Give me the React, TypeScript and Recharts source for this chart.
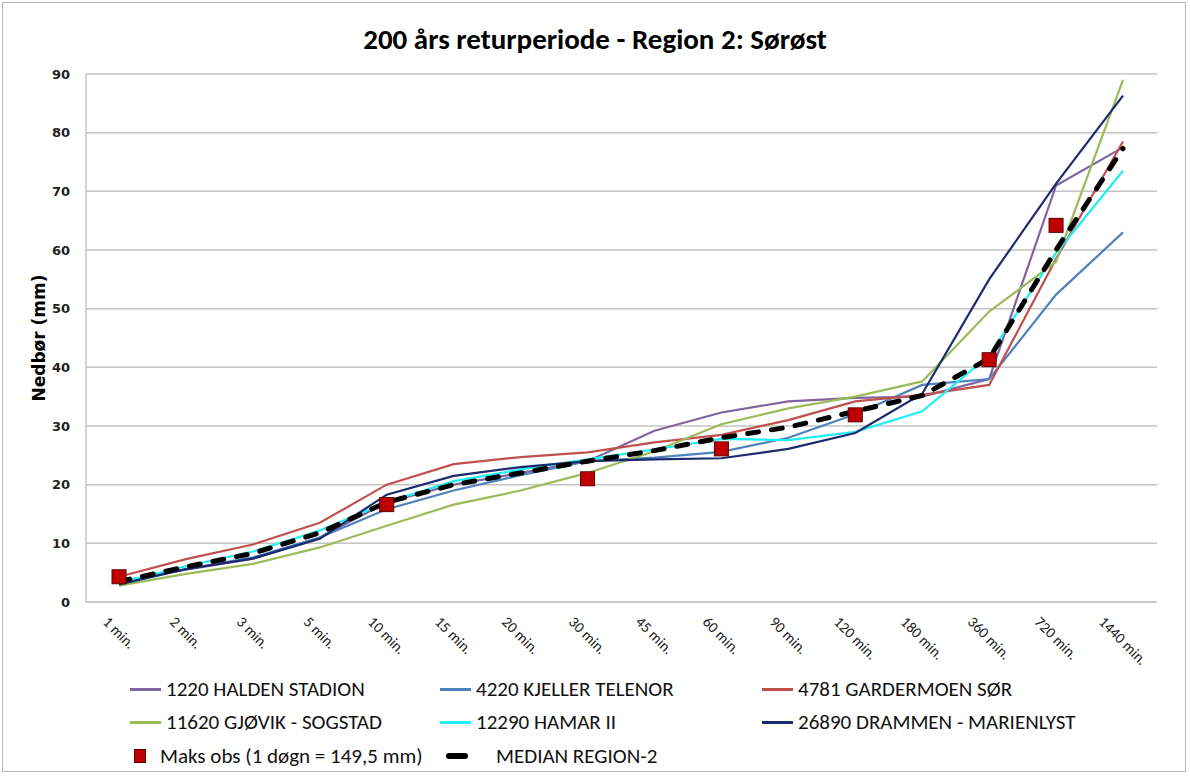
import React from "react";
import { LineChart, Line, XAxis, YAxis, CartesianGrid } from "recharts";

// durations on the x axis
const durations = [
  "1 min.", "2 min.", "3 min.", "5 min.", "10 min.", "15 min.", "20 min.", "30 min.",
  "45 min.", "60 min.", "90 min.", "120 min.", "180 min.", "360 min.", "720 min.", "1440 min.",
];

// precipitation (mm)
const halden = [3.5, 5.5, 7.4, 11, 17, 20, 22, 24, 29.2, 32.3, 34.2, 34.8, 35, 38, 71, 77.5];
const kjeller = [3.4, 5.6, 7.6, 11, 15.8, 19, 21.6, 24, 24.6, 25.6, 28, 32, 37, 38, 52.4, 63];
const gardermoen = [4.3, 7.3, 9.8, 13.5, 20, 23.5, 24.7, 25.5, 27.2, 28.5, 31, 34.2, 35.3, 37, 58.5, 78.5];
const gjovik = [2.8, 4.8, 6.5, 9.3, 13, 16.6, 19, 22, 25.7, 30.3, 33, 35, 37.6, 49.5, 58, 89];
const hamar = [3.3, 6.1, 8.6, 12.2, 17, 20.6, 22.6, 24.3, 26, 27.8, 27.6, 29, 32.5, 42, 59.5, 73.5];
const drammen = [3, 5.6, 7.4, 10.8, 18.3, 21.5, 23, 24, 24.3, 24.5, 26.1, 28.8, 35.5, 55, 71.3, 86.3];
const median = [3.5, 6, 8.3, 11.8, 17, 20, 22, 24, 25.8, 28, 29.8, 32.5, 35.2, 41.5, 60, 77.3];
const maksObs = [4.3, null, null, null, 16.6, null, null, 21, null, 26.1, null, 31.9, null, 41.3, 64.2, null];

const yTicks = [0, 10, 20, 30, 40, 50, 60, 70, 80, 90];

const stations = [
  { key: "halden", name: "1220 HALDEN STADION", color: "#8064A2", values: halden },
  { key: "kjeller", name: "4220 KJELLER TELENOR", color: "#4F81BD", values: kjeller },
  { key: "gardermoen", name: "4781 GARDERMOEN SØR", color: "#C0504D", values: gardermoen },
  { key: "gjovik", name: "11620 GJØVIK - SOGSTAD", color: "#9BBB59", values: gjovik },
  { key: "hamar", name: "12290 HAMAR II", color: "#1EEFF5", values: hamar },
  { key: "drammen", name: "26890 DRAMMEN - MARIENLYST", color: "#1C2B6E", values: drammen },
];

const rows = durations.map((d, i) => {
  const row: Record<string, string | number | null> = { d, median: median[i], maks: maksObs[i] };
  stations.forEach((s) => (row[s.key] = s.values[i]));
  return row;
});

const FONT = "Carlito, 'Liberation Sans', Arial, sans-serif";
const BOLD_FONT = "'DejaVu Sans', Verdana, sans-serif";
const TICK_SIZE = 15;

let ctx: CanvasRenderingContext2D | null = null;
function textWidth(s: string) {
  if (!ctx) ctx = document.createElement("canvas").getContext("2d");
  if (!ctx) return s.length * 7;
  ctx.font = `${TICK_SIZE}px ${FONT}`;
  return ctx.measureText(s).width;
}

// rotated label, its bounding box hangs centred under the category
function XTick({ x, y, payload }: any) {
  const w = textWidth(String(payload.value));
  const cy = y + 4 + (w + TICK_SIZE) * 0.354;
  return (
    <g transform={`translate(${x},${cy}) rotate(45)`}>
      <text textAnchor="middle" dominantBaseline="central" fontFamily={FONT} fontSize={TICK_SIZE} fill="#222">
        {payload.value}
      </text>
    </g>
  );
}

function SquareDot({ cx, cy, value }: any) {
  if (value == null || cx == null || cy == null) return null;
  return <rect x={cx - 7} y={cy - 7} width={14} height={14} fill="#C00000" stroke="#5a0000" strokeWidth={1} />;
}

const legendText = {
  position: "absolute" as const,
  height: 24,
  display: "flex",
  alignItems: "center",
  fontFamily: FONT,
  fontSize: 21,
  color: "#111",
  whiteSpace: "nowrap" as const,
};

function LegendBlock() {
  const cols = [130, 440, 762];
  const rowsY = [689, 722];
  return (
    <>
      {stations.map((s, i) => (
        <div key={s.key} style={{ ...legendText, left: cols[i % 3], top: rowsY[Math.floor(i / 3)] - 12 }}>
          <span style={{ width: 31, height: 3, background: s.color, marginRight: 5 }} />
          {s.name}
        </div>
      ))}
      <div style={{ ...legendText, left: 134, top: 744 }}>
        <span style={{ width: 10, height: 12, background: "#C00000", border: "1px solid #5a0000", marginRight: 14 }} />
        Maks obs (1 døgn = 149,5 mm)
      </div>
      <div style={{ ...legendText, left: 446, top: 744 }}>
        <span style={{ width: 22, height: 6, background: "#000", borderRadius: 3, marginRight: 28 }} />
        MEDIAN REGION-2
      </div>
    </>
  );
}

export default function App() {
  return (
    <div style={{ position: "absolute", left: 0, top: 0, width: 1190, height: 776, background: "#fff" }}>
      <div
        style={{
          position: "absolute", left: 2, top: 2, width: 1184, height: 770,
          border: "1px solid #b8b8b8", boxSizing: "border-box",
        }}
      />
      <div
        style={{
          position: "absolute", left: 0, top: 21, width: 1190, textAlign: "center",
          fontFamily: FONT, fontWeight: "bold", fontSize: 29, color: "#000",
        }}
      >
        200 års returperiode - Region 2: Sørøst
      </div>
      <div style={{ position: "absolute", left: 0, top: 0 }}>
        <LineChart width={1190} height={776} data={rows} margin={{ top: 74, right: 33, bottom: 114, left: 0 }}>
          <CartesianGrid vertical={false} stroke="#c4c4c4" strokeWidth={1.5} />
          <XAxis
            dataKey="d"
            interval={0}
            height={60}
            padding={{ left: 33, right: 34 }}
            tickLine={false}
            axisLine={{ stroke: "#c4c4c4", strokeWidth: 1.5 }}
            tick={<XTick />}
          />
          <YAxis
            width={86}
            domain={[0, 90]}
            ticks={yTicks}
            tickLine={false}
            axisLine={{ stroke: "#c4c4c4", strokeWidth: 1.5 }}
            tickMargin={10}
            tick={{ fontFamily: BOLD_FONT, fontSize: 13, fontWeight: "bold", fill: "#222" }}
            label={{
              value: "Nedbør (mm)",
              angle: -90,
              position: "insideLeft",
              dx: 34,
              style: { fontFamily: BOLD_FONT, fontSize: 17, fontWeight: "bold", fill: "#000", textAnchor: "middle" },
            }}
          />
          {stations.map((s) => (
            <Line
              key={s.key}
              type="linear"
              dataKey={s.key}
              name={s.name}
              stroke={s.color}
              strokeWidth={2.2}
              dot={false}
              isAnimationActive={false}
            />
          ))}
          <Line
            type="linear"
            dataKey="median"
            name="MEDIAN REGION-2"
            stroke="#000"
            strokeWidth={5}
            strokeDasharray="11 13"
            strokeLinecap="round"
            dot={false}
            isAnimationActive={false}
          />
          <Line
            type="linear"
            dataKey="maks"
            name="Maks obs (1 døgn = 149,5 mm)"
            stroke="none"
            strokeWidth={0}
            dot={<SquareDot />}
            activeDot={false}
            isAnimationActive={false}
          />
        </LineChart>
      </div>
      <LegendBlock />
    </div>
  );
}
